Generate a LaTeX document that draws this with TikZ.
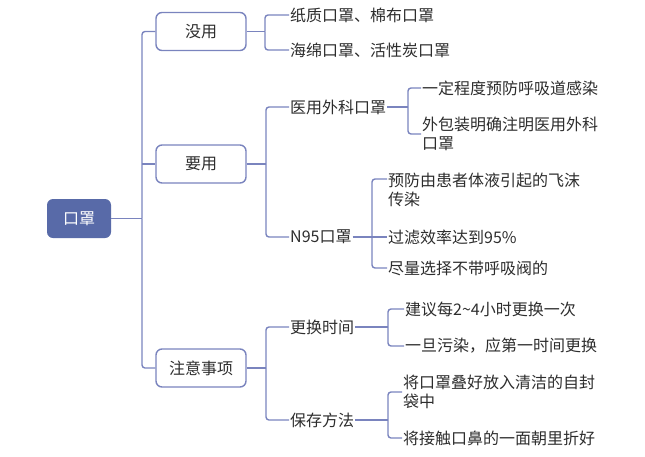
\documentclass[tikz,border=0pt]{standalone}
\usepackage{fontspec}
\setmainfont{Noto Sans CJK SC}
\definecolor{ln}{RGB}{122,132,190}
\definecolor{rootc}{RGB}{88,106,168}
\definecolor{tx}{RGB}{45,45,45}
\begin{document}
\begin{tikzpicture}[x=1pt,y=-1pt,
  every node/.style={font=\fontsize{16}{19}\selectfont},
  conn/.style={draw=ln, line width=1.4pt, rounded corners=3pt},
  box/.style={draw=ln, line width=1.4pt, rounded corners=6pt, minimum width=90pt, minimum height=38pt, fill=white, text=tx},
  rootbox/.style={fill=rootc, rounded corners=6pt, minimum width=64pt, minimum height=39pt, text=white},
  leaf/.style={anchor=west, inner xsep=1pt, inner ysep=1pt, text=tx, align=left},
]
\useasboundingbox (0,0) rectangle (645,456);

% level 0 / 1
\node[rootbox] (root) at (79,218.5) {口罩};
\node[box] (b1) at (201,31.5) {没用};
\node[box] (b2) at (201,164) {要用};
\node[box] (b3) at (201,368) {注意事项};

\coordinate (t) at (142,218.5);
\draw[conn] (root.east) -- (t);
\draw[conn] (t) |- (b1.west);
\draw[conn] (t) |- (b3.west);
\draw[conn] (b2.west -| t) -- (b2.west);

% level 2
\node[leaf] (l1a) at (289,15) {纸质口罩、棉布口罩};
\node[leaf] (l1b) at (289,50) {海绵口罩、活性炭口罩};
\node[leaf] (m1) at (289,107) {医用外科口罩};
\node[leaf] (m2) at (289,237) {N95口罩};
\node[leaf] (n1) at (289,327) {更换时间};
\node[leaf] (n2) at (289,420) {保存方法};

\coordinate (j1) at (265,31.5);
\draw[conn] (b1.east) -- (j1);
\draw[conn] (j1) |- (l1a.west);
\draw[conn] (j1) |- (l1b.west);

\coordinate (j2) at (266,164);
\draw[conn] (b2.east) -- (j2);
\draw[conn] (j2) |- (m1.west);
\draw[conn] (j2) |- (m2.west);

\coordinate (j3) at (266,368);
\draw[conn] (b3.east) -- (j3);
\draw[conn] (j3) |- (n1.west);
\draw[conn] (j3) |- (n2.west);

% level 3
\node[leaf] (a1) at (421,88) {一定程度预防呼吸道感染};
\node[leaf] (a2) at (421,134) {外包装明确注明医用外科\\口罩};
\coordinate (j4) at (408,107);
\draw[conn] (m1.east) -- (j4);
\draw[conn] (j4) |- (a1.west);
\draw[conn] (j4) |- (a2.west);

\node[leaf] (c1) at (387,190) {预防由患者体液引起的飞沫\\传染};
\node[leaf] (c2) at (387,237) {过滤效率达到95\%};
\node[leaf] (c3) at (387,268) {尽量选择不带呼吸阀的};
\coordinate (j5) at (372,237);
\draw[conn] (m2.east) -- (j5);
\draw[conn] (j5) |- ([yshift=11pt]c1.west);
\draw[conn] (j5) -- (c2.west);
\draw[conn] (j5) |- (c3.west);

\node[leaf] (d1) at (404,309) {建议每2\textasciitilde4小时更换一次};
\node[leaf] (d2) at (404,346) {一旦污染，应第一时间更换};
\coordinate (j6) at (388,327);
\draw[conn] (n1.east) -- (j6);
\draw[conn] (j6) |- (d1.west);
\draw[conn] (j6) |- (d2.west);

\node[leaf] (e1) at (402,392) {将口罩叠好放入清洁的自封\\袋中};
\node[leaf] (e2) at (402,438) {将接触口鼻的一面朝里折好};
\coordinate (j7) at (388,420);
\draw[conn] (n2.east) -- (j7);
\draw[conn] (j7) |- (e1.west);
\draw[conn] (j7) |- (e2.west);
\end{tikzpicture}
\end{document}
